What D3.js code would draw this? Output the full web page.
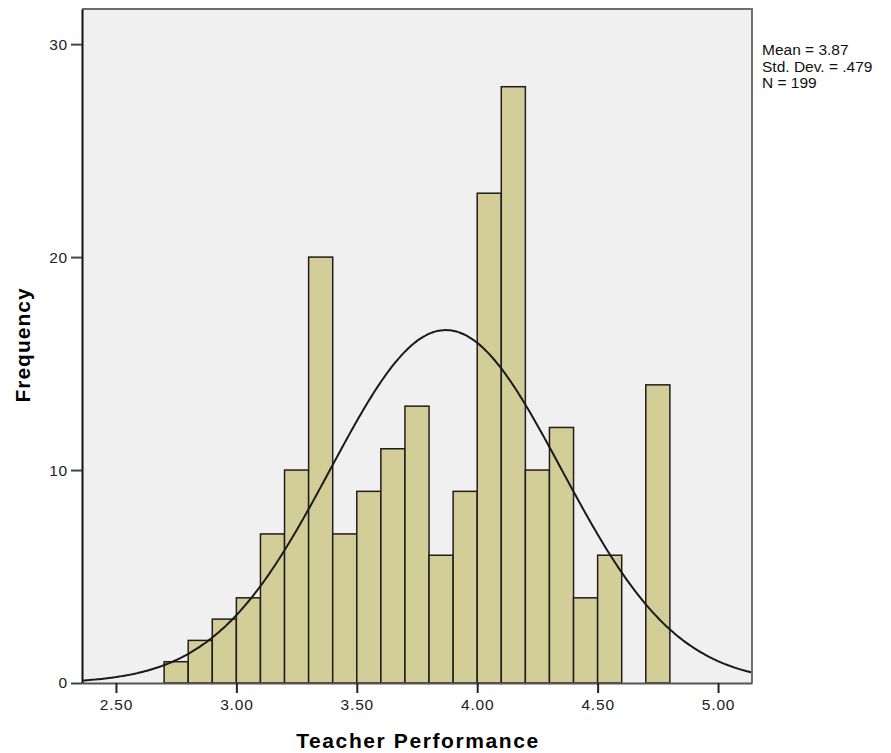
<!DOCTYPE html>
<html>
<head>
<meta charset="utf-8">
<script src="https://cdn.jsdelivr.net/npm/d3@7"></script>
<style>
  body { margin: 0; background: #fff; }
  text { font-family: "Liberation Sans", Arial, sans-serif; }
  .tick text { font-size: 15.5px; fill: #222; }
</style>
</head>
<body>
<div id="chart"></div>
<script>
// histogram bins (lower edges) and counts
var binStarts = [2.7, 2.8, 2.9, 3.0, 3.1, 3.2, 3.3, 3.4, 3.5, 3.6, 3.7,
                 3.8, 3.9, 4.0, 4.1, 4.2, 4.3, 4.4, 4.5, 4.6, 4.7];
var counts = [1, 2, 3, 4, 7, 10, 20, 7, 9, 11, 13,
              6, 9, 23, 28, 10, 12, 4, 6, 0, 14];
var binWidth = 0.1;
var xTicks = [2.5, 3.0, 3.5, 4.0, 4.5, 5.0];
var yTicks = [0, 10, 20, 30];
var statsLines = ['Mean = 3.87', 'Std. Dev. = .479', 'N = 199'];
var mean = 3.87, sd = 0.479, n = 199;

var margin = {top: 9, right: 139, bottom: 70, left: 82},
    width = 891 - margin.left - margin.right,
    height = 753 - margin.top - margin.bottom;

var xScale = d3.scaleLinear().domain([2.359, 5.141]).range([0, width]);
var yScale = d3.scaleLinear().domain([0, 31.65]).range([height, 0]);

var svg = d3.select('#chart').append('svg')
            .attr('width', 891)
            .attr('height', 753)
            .append('g')
            .attr('transform', 'translate(' + margin.left + ',' + margin.top + ')');

// plot background
svg.append('rect')
   .attr('width', width)
   .attr('height', height)
   .style('fill', '#f0f0f0');

// bars
svg.selectAll('rect.bar')
   .data(binStarts.map((b, i) => ({x0: b, count: counts[i]})).filter(d => d.count > 0))
   .enter().append('rect')
   .attr('class', 'bar')
   .attr('x', d => xScale(d.x0))
   .attr('y', d => yScale(d.count))
   .attr('width', d => xScale(d.x0 + binWidth) - xScale(d.x0))
   .attr('height', d => yScale(0) - yScale(d.count))
   .style('fill', '#d3ce97')
   .style('stroke', '#1e1e1e')
   .style('stroke-width', 1.5);

// fitted normal curve
var curveX = d3.range(2.359, 5.1415, 0.01);
var normal = x => n * binWidth * Math.exp(-0.5 * Math.pow((x - mean) / sd, 2)) / (sd * Math.sqrt(2 * Math.PI));
var line = d3.line()
             .x(d => xScale(d))
             .y(d => yScale(normal(d)))
             .curve(d3.curveBasis);
svg.append('path')
   .attr('d', line(curveX))
   .style('fill', 'none')
   .style('stroke', '#1a1a1a')
   .style('stroke-width', 2);

// frame: top and right gray
svg.append('path')
   .attr('d', 'M0,0H' + width + 'V' + height)
   .style('fill', 'none')
   .style('stroke', '#6e6e6e')
   .style('stroke-width', 2);

// axes
var xAxis = d3.axisBottom(xScale).tickValues(xTicks).tickFormat(d3.format('.2f')).tickSize(10).tickSizeOuter(0);
var yAxis = d3.axisLeft(yScale).tickValues(yTicks).tickSize(11).tickSizeOuter(0);

var gx = svg.append('g').attr('transform', 'translate(0,' + height + ')').call(xAxis);
gx.select('.domain').style('stroke', '#555').style('stroke-width', 2);
gx.selectAll('.tick line').style('stroke', '#222').style('stroke-width', 2);
gx.selectAll('.tick text').attr('dy', '1.1em').attr('y', 10).style('letter-spacing', '0.8px');

var gy = svg.append('g').call(yAxis);
gy.select('.domain').style('stroke', '#111').style('stroke-width', 2);
gy.selectAll('.tick line').style('stroke', '#444').style('stroke-width', 2);
gy.selectAll('.tick text').attr('x', -14).style('letter-spacing', '0.8px');

// axis labels
svg.append('text')
   .attr('x', 336)
   .attr('y', height + 65)
   .attr('text-anchor', 'middle')
   .style('font-size', '21px')
   .style('font-weight', 'bold')
   .style('letter-spacing', '1.6px')
   .text('Teacher Performance');
svg.append('text')
   .attr('transform', 'rotate(-90)')
   .attr('x', -336)
   .attr('y', -52)
   .attr('text-anchor', 'middle')
   .style('font-size', '21px')
   .style('font-weight', 'bold')
   .style('letter-spacing', '1px')
   .text('Frequency');

// stats box text
svg.append('g')
   .selectAll('text')
   .data(statsLines)
   .enter().append('text')
   .attr('x', width + 10)
   .attr('y', (d, i) => 46 + i * 16.5)
   .style('font-size', '15.5px')
   .style('fill', '#111')
   .text(d => d);
</script>
</body>
</html>
